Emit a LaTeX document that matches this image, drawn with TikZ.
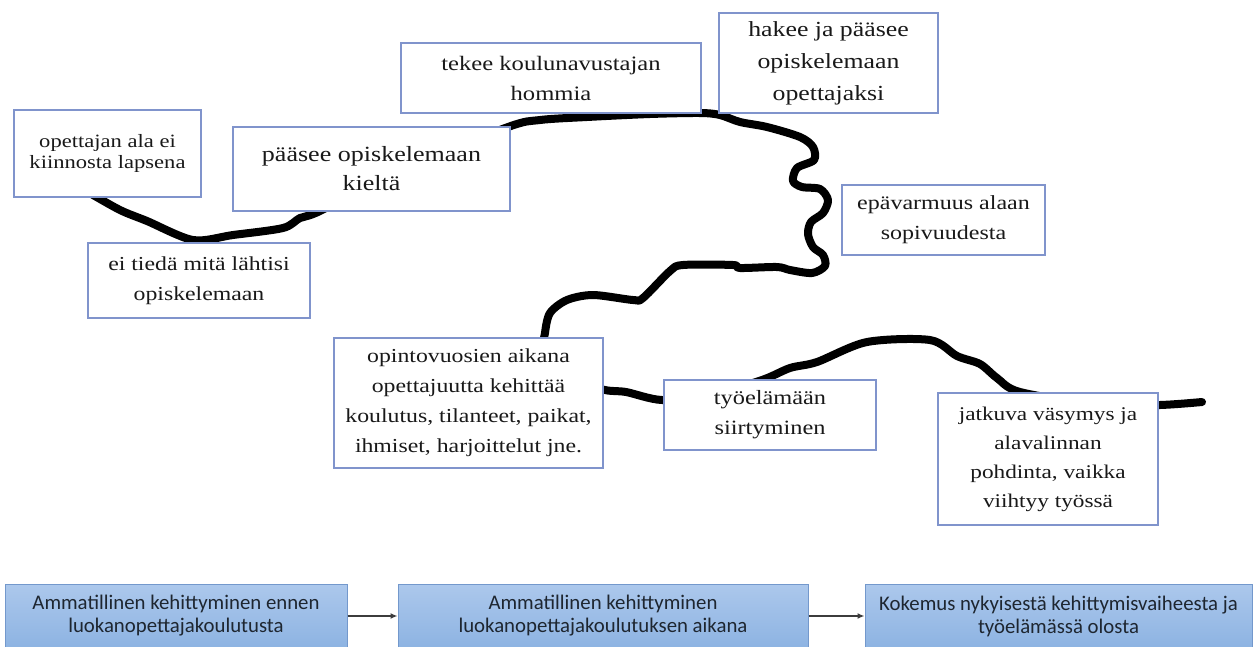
\documentclass[tikz,border=0pt]{standalone}
\usepackage{fontspec}
\setmainfont{Liberation Serif}[FakeStretch=1.2]
\newfontfamily\calib{Carlito}
\usetikzlibrary{arrows.meta}
\definecolor{boxline}{RGB}{128,148,204}
\definecolor{txt}{RGB}{25,25,25}
\definecolor{bbtop}{RGB}{172,200,236}
\definecolor{bbbot}{RGB}{141,179,226}
\definecolor{bbline}{RGB}{115,152,204}
\definecolor{bbtxt}{RGB}{30,38,48}
\definecolor{arrowc}{RGB}{60,60,60}
\begin{document}
\begin{tikzpicture}[x=1pt,y=-1pt,
  tbox/.style={draw=boxline, line width=1.3pt, fill=white, inner sep=0pt, align=center, text=txt},
  fs/.style 2 args={font=\fontsize{#1}{#2}\selectfont},
  bbox/.style={draw=bbline, line width=1pt, top color=bbtop, bottom color=bbbot, inner sep=0pt,
    align=center, text=bbtxt, font=\calib\fontsize{20.8}{23}\selectfont, minimum height=64pt},
  flow/.style={draw=arrowc, line width=1.4pt, -{Latex[length=7pt,width=6pt]}},
  lifeline/.style={line width=8pt, line cap=round, line join=round}
]
\fill[white] (0,0) rectangle (1257,646);
\clip (0,0) rectangle (1257,646);

% the life line (drawn first, boxes cover it)
\draw[lifeline] plot[smooth, tension=0.5] coordinates {
 (88,192) (120,210) (147,221) (193,240) (233,235) (283,228) (300,218) (320,211)
 (400,170) (508,127) (540,120) (587,117) (650,114) (700,113) (720,115) (740,122)
 (767,127) (800,137) (813,147) (814,160) (797,168) (793,181) (802,187) (820,189)
 (828,200) (823,213) (811,222) (808,234) (813,247) (823,255) (825,266) (812,273)
 (790,270) (777,267) (740,268) (733,265) (683,265) (670,271) (643,298) (633,300)
 (593,295) (567,300) (550,313) (545,333) (545,350) (570,380) (605,390) (626,392)
 (662,400) (710,395) (762,380) (790,368) (817,362) (867,342) (930,340) (957,356)
 (980,364) (997,378) (1020,392) (1100,405) (1160,405) (1202,402)};

% story boxes
\node[tbox, fs={18.8}{21}, minimum width=187pt, minimum height=87pt] (n1) at (107.5,153.5)
  {opettajan ala ei\\kiinnosta lapsena};
\node[tbox, fs={21.7}{29}, minimum width=277pt, minimum height=84pt] (n2) at (371.5,169)
  {pääsee opiskelemaan\\kieltä};
\node[tbox, fs={19.8}{30}, minimum width=222pt, minimum height=75pt] (n3) at (199,280.5)
  {ei tiedä mitä lähtisi\\opiskelemaan};
\node[tbox, fs={20.5}{30}, minimum width=300pt, minimum height=70pt] (n4) at (551,78)
  {tekee koulunavustajan\\hommia};
\node[tbox, fs={21.5}{32}, minimum width=219pt, minimum height=100pt] (n5) at (828.5,63)
  {hakee ja pääsee\\opiskelemaan\\opettajaksi};
\node[tbox, fs={20}{30}, minimum width=203pt, minimum height=70pt] (n6) at (943.5,220)
  {epävarmuus alaan\\sopivuudesta};
\node[tbox, fs={19.8}{30}, minimum width=269pt, minimum height=130pt] (n7) at (468.5,403)
  {opintovuosien aikana\\opettajuutta kehittää\\koulutus, tilanteet, paikat,\\ihmiset, harjoittelut jne.};
\node[tbox, fs={20.3}{30}, minimum width=212pt, minimum height=70pt] (n8) at (770,415)
  {työelämään\\siirtyminen};
\node[tbox, fs={19.4}{29}, minimum width=220pt, minimum height=132pt] (n9) at (1048,459)
  {jatkuva väsymys ja\\alavalinnan\\pohdinta, vaikka\\viihtyy työssä};

% phase boxes
\node[bbox, minimum width=342pt] (b1) at (176,616)
  {Ammatillinen kehittyminen ennen\\luokanopettajakoulutusta};
\node[bbox, minimum width=410pt] (b2) at (603,616)
  {Ammatillinen kehittyminen\\luokanopettajakoulutuksen aikana};
\node[bbox, minimum width=387pt] (b3) at (1058.5,616)
  {Kokemus nykyisestä kehittymisvaiheesta ja\\työelämässä olosta};
\draw[flow] (b1) -- (b2);
\draw[flow] (b2) -- (b3);
\end{tikzpicture}
\end{document}
